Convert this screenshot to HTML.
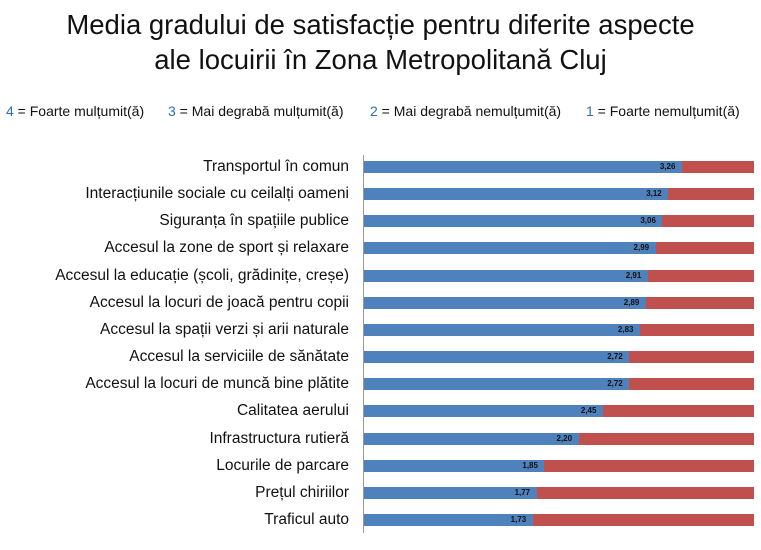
<!DOCTYPE html>
<html><head><meta charset="utf-8"><style>
body{margin:0;width:761px;height:550px;background:#fff;font-family:"Liberation Sans",sans-serif;position:relative;overflow:hidden}
.t{position:absolute;left:0;width:761px;text-align:center;font-size:27.5px;color:#111}
.leg{position:absolute;top:103px;font-size:14px;color:#111;white-space:nowrap}
.leg b{font-weight:normal;color:#2f6eb5}
.lab{position:absolute;right:412px;font-size:15.5px;color:#111;white-space:nowrap}
.bar{position:absolute;height:12px}
.v{position:absolute;font-size:8px;font-weight:bold;color:#111}
</style></head><body>
<div class="t" style="top:9px">Media gradului de satisfacție pentru diferite aspecte</div>
<div class="t" style="top:44px">ale locuirii în Zona Metropolitană Cluj</div>
<div class="leg" style="left:6px"><b>4</b> = Foarte mulțumit(ă)</div>
<div class="leg" style="left:168px"><b>3</b> = Mai degrabă mulțumit(ă)</div>
<div class="leg" style="left:370px"><b>2</b> = Mai degrabă nemulțumit(ă)</div>
<div class="leg" style="left:586px"><b>1</b> = Foarte nemulțumit(ă)</div>
<div style="position:absolute;left:363px;top:155px;width:1px;height:378px;background:#999"></div>
<div id="c"></div>
<script>
var d=[["Transportul în comun",3.26],["Interacțiunile sociale cu ceilalți oameni",3.12],["Siguranța în spațiile publice ",3.06],["Accesul la zone de sport și relaxare",2.99],["Accesul la educație (școli, grădinițe, creșe)",2.91],["Accesul la locuri de joacă pentru copii",2.89],["Accesul la spații verzi și arii naturale",2.83],["Accesul la serviciile de sănătate",2.72],["Accesul la locuri de muncă bine plătite",2.72],["Calitatea aerului",2.45],["Infrastructura rutieră",2.20],["Locurile de parcare",1.85],["Prețul chiriilor",1.77],["Traficul auto",1.73]];
var h="";d.forEach(function(r,i){var y=167+i*27.15,w=r[1]*97.5;
h+='<div class="lab" style="top:'+(y-9)+'px">'+r[0]+'</div>';
h+='<div class="bar" style="left:364px;top:'+(y-6)+'px;width:'+w+'px;background:#4f81bd"></div>';
h+='<div class="bar" style="left:'+(364+w)+'px;top:'+(y-6)+'px;width:'+(390-w)+'px;background:#c0504d"></div>';
h+='<div class="v" style="left:'+(364+w-22)+'px;top:'+(y-5)+'px">'+r[1].toFixed(2).replace(".",",")+'</div>';});
document.getElementById("c").innerHTML=h;
</script>
</body></html>
